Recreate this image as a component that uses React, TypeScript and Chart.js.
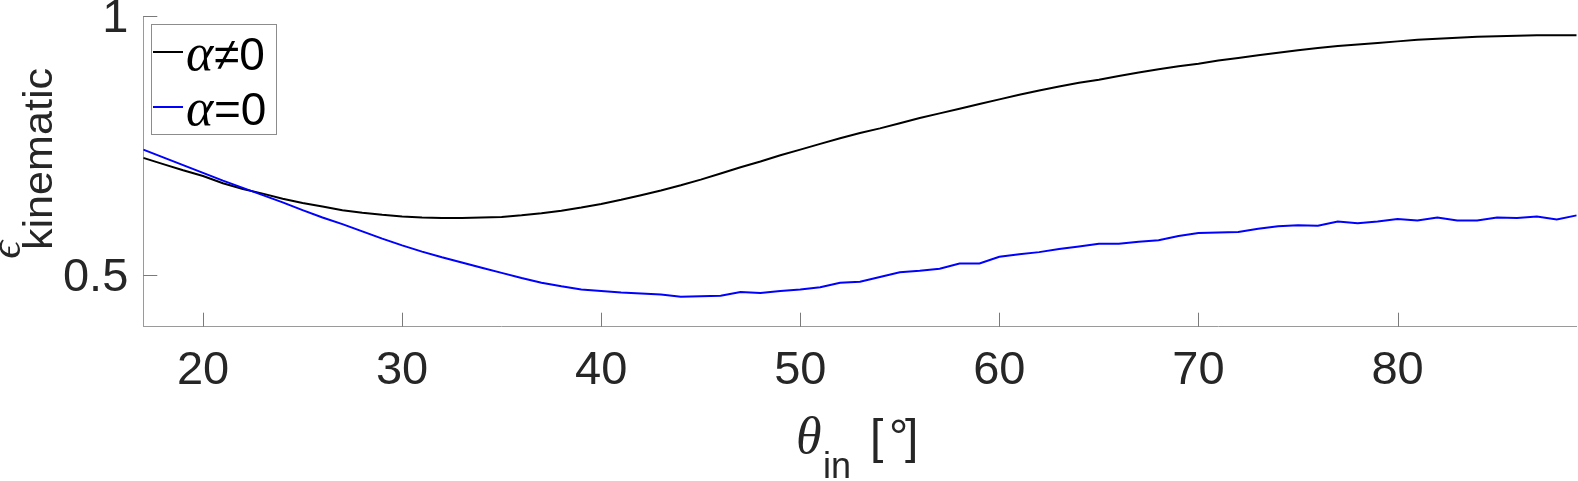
import React, { useEffect, useRef } from 'react';
import { Chart, registerables } from 'chart.js';

Chart.register(...registerables);

// incidence angle [deg]
const thetaDeg = [
  17, 18, 19, 20, 21, 22, 23, 24, 25, 26, 27, 28, 29, 30, 31, 32, 33, 34, 35, 36,
  37, 38, 39, 40, 41, 42, 43, 44, 45, 46, 47, 48, 49, 50, 51, 52, 53, 54, 55, 56,
  57, 58, 59, 60, 61, 62, 63, 64, 65, 66, 67, 68, 69, 70, 71, 72, 73, 74, 75, 76,
  77, 78, 79, 80, 81, 82, 83, 84, 85, 86, 87, 88, 89,
];

// epsilon_kinematic, alpha != 0
const epsAlphaNonZero = [
  0.726, 0.714, 0.702, 0.691, 0.677, 0.666, 0.657, 0.647, 0.639, 0.632,
  0.625, 0.620, 0.616, 0.613, 0.611, 0.610, 0.610, 0.611, 0.612, 0.615,
  0.619, 0.624, 0.630, 0.637, 0.645, 0.654, 0.663, 0.673, 0.684, 0.696,
  0.708, 0.719, 0.731, 0.742, 0.753, 0.764, 0.774, 0.783, 0.793, 0.803,
  0.812, 0.821, 0.830, 0.839, 0.848, 0.856, 0.864, 0.871, 0.877, 0.884,
  0.891, 0.897, 0.903, 0.908, 0.914, 0.919, 0.924, 0.929, 0.934, 0.938,
  0.942, 0.945, 0.948, 0.951, 0.954, 0.956, 0.958, 0.960, 0.961, 0.962,
  0.963, 0.963, 0.963,
];

// epsilon_kinematic, alpha = 0
const epsAlphaZero = [
  0.742, 0.727, 0.712, 0.697, 0.682, 0.668, 0.654, 0.640, 0.625, 0.611,
  0.598, 0.584, 0.570, 0.557, 0.545, 0.534, 0.524, 0.514, 0.504, 0.494,
  0.485, 0.478, 0.472, 0.469, 0.466, 0.464, 0.462, 0.458, 0.459, 0.460,
  0.467, 0.465, 0.469, 0.472, 0.476, 0.485, 0.487, 0.496, 0.505, 0.508,
  0.512, 0.522, 0.522, 0.535, 0.540, 0.544, 0.550, 0.555, 0.560, 0.560,
  0.564, 0.567, 0.575, 0.581, 0.582, 0.583, 0.589, 0.594, 0.596, 0.595,
  0.603, 0.600, 0.603, 0.608, 0.605, 0.611, 0.605, 0.605, 0.611, 0.610,
  0.613, 0.607, 0.615,
];

const xTickValues = [20, 30, 40, 50, 60, 70, 80];
const yTickValues = [0.5, 1];
const seriesLabels = ['α≠0', 'α=0'];
const seriesColors = ['#000000', '#0000ff'];

const X_MIN = 17;
const X_MAX = 89;
const Y_MIN = 0.4;
const Y_MAX = 1;

const SANS = '"Liberation Sans", Arial, Helvetica, sans-serif';
const SERIF = '"Liberation Serif", "DejaVu Serif", serif';
const TEXT = '#262626';

const decorPlugin = {
  id: 'matlabDecor',
  afterDraw(chart: any) {
    const ctx: CanvasRenderingContext2D = chart.ctx;
    const { left, bottom } = chart.chartArea;
    const xs = chart.scales.x;
    const ys = chart.scales.y;
    ctx.save();

    // inward tick marks
    ctx.strokeStyle = '#7a7a7a';
    ctx.lineWidth = 1;
    ctx.beginPath();
    xTickValues.forEach((v) => {
      const px = Math.round(xs.getPixelForValue(v)) + 0.5;
      ctx.moveTo(px, bottom);
      ctx.lineTo(px, bottom - 14);
    });
    yTickValues.forEach((v) => {
      const py = Math.round(ys.getPixelForValue(v)) + 0.5;
      ctx.moveTo(left, py);
      ctx.lineTo(left + 14, py);
    });
    ctx.stroke();

    // legend
    const lx = 151.5, ly = 24.5, lw = 125, lh = 110;
    ctx.fillStyle = '#ffffff';
    ctx.fillRect(lx, ly, lw, lh);
    ctx.strokeStyle = '#8c8c8c';
    ctx.lineWidth = 1;
    ctx.strokeRect(lx, ly, lw, lh);
    chart.data.datasets.forEach((ds: any, i: number) => {
      const yLine = 52 + i * 55;
      ctx.strokeStyle = ds.borderColor;
      ctx.lineWidth = 2;
      ctx.beginPath();
      ctx.moveTo(153, yLine);
      ctx.lineTo(183, yLine);
      ctx.stroke();
      const label: string = ds.label;
      const sym = label.slice(0, 1);
      const rest = label.slice(1);
      const base = yLine + 18;
      ctx.fillStyle = '#000000';
      ctx.textBaseline = 'alphabetic';
      ctx.textAlign = 'left';
      ctx.font = `italic 52px ${SERIF}`;
      ctx.fillText(sym, 186, base);
      ctx.font = `46px ${SANS}`;
      ctx.fillText(rest, 214, base);
    });

    // x-axis title: theta_in [°]
    ctx.fillStyle = TEXT;
    ctx.textBaseline = 'alphabetic';
    ctx.textAlign = 'left';
    ctx.font = `italic 52px ${SERIF}`;
    ctx.fillText('θ', 796, 453);
    ctx.font = `36px ${SANS}`;
    ctx.fillText('in', 823, 478);
    ctx.font = `48px ${SANS}`;
    ctx.fillText('[', 870, 453);
    ctx.fillText('°', 889, 453);
    ctx.fillText(']', 905, 453);

    // y-axis title: epsilon_kinematic (rotated)
    ctx.save();
    ctx.rotate(-Math.PI / 2);
    ctx.font = `italic 44px ${SERIF}`;
    const ew = ctx.measureText('ϵ').width;
    ctx.fillText('ϵ', -(241 + ew), 20);
    ctx.font = `40px ${SANS}`;
    const kw = ctx.measureText('kinematic').width;
    const stretch = 182 / kw;
    ctx.translate(-250, 52);
    ctx.scale(stretch, 1);
    ctx.fillText('kinematic', 0, 0);
    ctx.restore();

    ctx.restore();
  },
};

export default function App() {
  const ref = useRef<HTMLCanvasElement>(null);

  useEffect(() => {
    if (!ref.current) return;
    const mk = (vals: number[]) => thetaDeg.map((t, i) => ({ x: t, y: vals[i] }));
    const chart = new Chart(ref.current, {
      type: 'line',
      data: {
        datasets: [
          {
            label: seriesLabels[0],
            data: mk(epsAlphaNonZero),
            borderColor: seriesColors[0],
            backgroundColor: seriesColors[0],
            borderWidth: 2,
            pointRadius: 0,
            tension: 0,
            fill: false,
            order: 1,
          },
          {
            label: seriesLabels[1],
            data: mk(epsAlphaZero),
            borderColor: seriesColors[1],
            backgroundColor: seriesColors[1],
            borderWidth: 2,
            pointRadius: 0,
            tension: 0,
            fill: false,
            order: 0,
          },
        ],
      },
      options: {
        responsive: false,
        animation: false,
        devicePixelRatio: 1,
        layout: { padding: { top: 16, right: 1.3, left: 0, bottom: 0 } },
        plugins: {
          legend: { display: false },
          tooltip: { enabled: false },
          title: { display: false },
        },
        scales: {
          x: {
            type: 'linear',
            min: X_MIN,
            max: X_MAX,
            grid: { display: false, drawTicks: false },
            border: { display: true, color: '#9a9a9a', width: 1 },
            ticks: {
              font: { family: SANS, size: 47 },
              color: TEXT,
              padding: 16.5,
              maxRotation: 0,
              autoSkip: false,
            },
            afterBuildTicks: (scale: any) => {
              scale.ticks = xTickValues.map((v) => ({ value: v }));
            },
            afterFit: (scale: any) => {
              scale.height = 481 - 326.7;
              scale.paddingLeft = 0;
              scale.paddingRight = 0;
            },
          },
          y: {
            type: 'linear',
            min: Y_MIN,
            max: Y_MAX,
            grid: { display: false, drawTicks: false },
            border: { display: true, color: '#9a9a9a', width: 1 },
            ticks: {
              font: { family: SANS, size: 47 },
              color: TEXT,
              padding: 15,
              labelOffset: 3,
              autoSkip: false,
              callback: (v: any) => String(v),
            },
            afterBuildTicks: (scale: any) => {
              scale.ticks = yTickValues.map((v) => ({ value: v }));
            },
            afterFit: (scale: any) => {
              scale.width = 143.3;
              scale.paddingTop = 0;
              scale.paddingBottom = 0;
            },
          },
        },
      },
      plugins: [decorPlugin],
    });
    return () => chart.destroy();
  }, []);

  return (
    <div style={{ position: 'absolute', left: 0, top: 0, width: 1578, height: 481, background: '#ffffff' }}>
      <canvas ref={ref} width={1578} height={481} style={{ display: 'block' }} />
    </div>
  );
}
